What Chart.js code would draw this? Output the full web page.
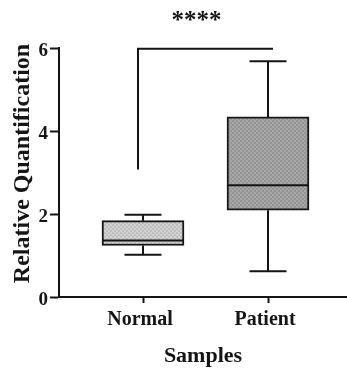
<!DOCTYPE html>
<html>
<head>
<meta charset="utf-8">
<script src="https://cdn.jsdelivr.net/npm/chart.js@4.4.1/dist/chart.umd.min.js"></script>
<style>
  html, body { margin: 0; padding: 0; background: #fff; }
  #wrap { width: 347px; height: 372px; }
</style>
</head>
<body>
<div id="wrap"><canvas id="chart" width="347" height="372"></canvas></div>
<script>
// data
const categories = ['Normal', 'Patient'];
const whiskerMin = [1.02, 0.62];
const q1 = [1.24, 2.09];
const median = [1.36, 2.69];
const q3 = [1.84, 4.34];
const whiskerMax = [1.98, 5.68];
const yTicks = [0, 2, 4, 6];

// significance bracket
const bracketLevel = 5.98;
const bracketLeftEnd = 3.07;
const significance = '****';

const serif = "'Liberation Serif', 'Times New Roman', serif";
const ink = '#151515';

// small gray textures like the print fill
const makePattern = (base, dot) => {
  const c = document.createElement('canvas');
  c.width = 4;
  c.height = 4;
  const g = c.getContext('2d');
  g.fillStyle = base;
  g.fillRect(0, 0, 4, 4);
  g.fillStyle = dot;
  g.fillRect(0, 0, 2, 2);
  g.fillRect(2, 2, 2, 2);
  return g.createPattern(c, 'repeat');
};

const boxExtras = {
  id: 'boxExtras',
  afterDatasetsDraw(chart) {
    const { ctx, scales } = chart;
    const xs = scales.x;
    const ys = scales.y;
    ctx.save();
    ctx.strokeStyle = ink;
    ctx.lineWidth = 2;
    ctx.lineCap = 'butt';
    categories.forEach((c, i) => {
      const x = xs.getPixelForValue(i + 1);
      const half = 81 / 2;
      const cap = 37 / 2;
      ctx.beginPath();
      // median
      ctx.moveTo(x - half, ys.getPixelForValue(median[i]));
      ctx.lineTo(x + half, ys.getPixelForValue(median[i]));
      // upper whisker
      ctx.moveTo(x, ys.getPixelForValue(q3[i]));
      ctx.lineTo(x, ys.getPixelForValue(whiskerMax[i]));
      ctx.moveTo(x - cap, ys.getPixelForValue(whiskerMax[i]));
      ctx.lineTo(x + cap, ys.getPixelForValue(whiskerMax[i]));
      // lower whisker
      ctx.moveTo(x, ys.getPixelForValue(q1[i]));
      ctx.lineTo(x, ys.getPixelForValue(whiskerMin[i]));
      ctx.moveTo(x - cap, ys.getPixelForValue(whiskerMin[i]));
      ctx.lineTo(x + cap, ys.getPixelForValue(whiskerMin[i]));
      ctx.stroke();
    });

    // bracket
    const x1 = xs.getPixelForValue(1) - 5;
    const x2 = xs.getPixelForValue(2) + 5;
    const yb = ys.getPixelForValue(bracketLevel);
    ctx.beginPath();
    ctx.moveTo(x1, ys.getPixelForValue(bracketLeftEnd));
    ctx.lineTo(x1, yb);
    ctx.lineTo(x2, yb);
    ctx.stroke();

    ctx.fillStyle = ink;
    ctx.font = 'bold 25px ' + serif;
    ctx.textAlign = 'center';
    ctx.textBaseline = 'middle';
    ctx.fillText(significance, (x1 + x2) / 2 - 9, 22);
    ctx.restore();
  },
};

const ctx = document.getElementById('chart').getContext('2d');
new Chart(ctx, {
  type: 'bar',
  data: {
    datasets: [
      {
        data: categories.map((c, i) => ({ x: i + 1, y: [q1[i], q3[i]] })),
        backgroundColor: [makePattern('#d2d2d2', '#bdbdbd'), makePattern('#a6a6a6', '#959595')],
        borderColor: ink,
        borderWidth: 2,
        borderSkipped: false,
        barThickness: 82,
      },
    ],
  },
  options: {
    responsive: false,
    animation: false,
    layout: { padding: { top: 48, right: 0, bottom: 0, left: 0 } },
    plugins: { legend: { display: false }, tooltip: { enabled: false } },
    scales: {
      x: {
        type: 'linear',
        min: 0.328,
        max: 2.632,
        offset: false,
        afterBuildTicks: (s) => { s.ticks = categories.map((c, i) => ({ value: i + 1 })); },
        afterFit: (s) => { s.height = 75; },
        ticks: {
          callback: (v) => categories[v - 1],
          font: { family: serif, size: 20, weight: 'bold' },
          color: ink,
          padding: 5,
          labelOffset: -3,
          maxRotation: 0,
          autoSkip: false,
        },
        grid: { drawOnChartArea: false, drawTicks: true, tickLength: 6, tickWidth: 2, tickColor: ink, offset: false },
        border: { display: true, color: ink, width: 2 },
        title: {
          display: true,
          text: 'Samples',
          font: { family: serif, size: 22, weight: 'bold' },
          color: ink,
          padding: { top: 0, bottom: 2 },
        },
      },
      y: {
        min: 0,
        max: 6,
        afterBuildTicks: (s) => { s.ticks = yTicks.map((v) => ({ value: v })); },
        afterFit: (s) => { s.width = 59; },
        ticks: {
          font: { family: serif, size: 19, weight: 'bold' },
          color: ink,
          padding: 2,
          labelOffset: 3,
        },
        grid: { drawOnChartArea: false, drawTicks: true, tickLength: 9, tickWidth: 2, tickColor: ink },
        border: { display: true, color: ink, width: 2 },
        title: {
          display: true,
          text: '   Relative Quantification',
          font: { family: serif, size: 24, weight: 'bold' },
          color: ink,
          padding: { top: 8, bottom: 0 },
        },
      },
    },
  },
  plugins: [boxExtras],
});
</script>
</body>
</html>
